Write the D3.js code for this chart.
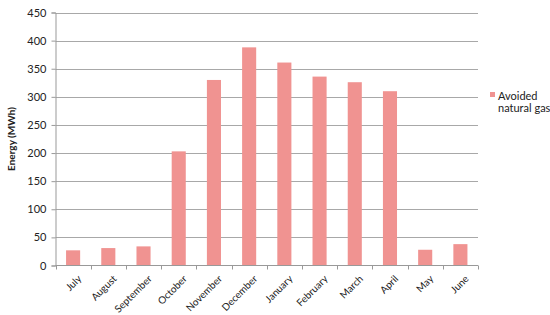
<!DOCTYPE html>
<html>
<head>
<meta charset="utf-8">
<script src="https://cdn.jsdelivr.net/npm/d3@7"></script>
<style>
  body { margin: 0; background: #fff; }
  text { font-family: Lato, "Open Sans", sans-serif; fill: #222; }
</style>
</head>
<body>
<svg id="plot" width="550" height="315"></svg>
<script>
let months = ["July", "August", "September", "October", "November", "December",
              "January", "February", "March", "April", "May", "June"];
let avoidedGas = [27, 31, 34, 203, 330, 388, 361, 336, 326, 310, 28, 38];
let yTicks = [0, 50, 100, 150, 200, 250, 300, 350, 400, 450];

let width = 550, height = 315;
let margin = {top: 12.5, right: 72, bottom: 49.5, left: 55.5};

let svg = d3.select("#plot");

let x = d3.scaleBand()
    .domain(months)
    .range([margin.left, width - margin.right])
    .paddingInner(0.6)
    .paddingOuter(0.3);

let y = d3.scaleLinear()
    .domain([0, 450])
    .range([height - margin.bottom, margin.top]);

// gridlines
svg.append("g")
  .selectAll("line")
  .data(yTicks.slice(1))
  .join("line")
    .attr("x1", margin.left)
    .attr("x2", width - margin.right)
    .attr("y1", d => Math.round(y(d)) + 0.5)
    .attr("y2", d => Math.round(y(d)) + 0.5)
    .attr("stroke", "#a8a8a8")
    .attr("stroke-width", 1);

// bars
svg.append("g")
  .selectAll("rect")
  .data(avoidedGas)
  .join("rect")
    .attr("x", (d, i) => x(months[i]))
    .attr("y", d => y(d))
    .attr("width", x.bandwidth())
    .attr("height", d => y(0) - y(d))
    .attr("fill", "#f09391");

// y axis
let yAxis = g => g
    .attr("transform", `translate(${margin.left}, 0)`)
    .call(d3.axisLeft(y).tickValues(yTicks).tickSize(4).tickPadding(5))
    .call(g => g.select(".domain").attr("stroke", "#999"))
    .call(g => g.selectAll(".tick line").attr("stroke", "#999"))
    .call(g => g.selectAll(".tick text")
              .style("font-size", "11px")
              .attr("fill", "#222"));

svg.append("g").call(yAxis);

// x axis: ticks at band boundaries
let step = (width - margin.right - margin.left) / months.length;

let gx = svg.append("g")
    .attr("transform", `translate(0, ${y(0)})`);

gx.append("line")
    .attr("x1", margin.left)
    .attr("x2", width - margin.right)
    .attr("stroke", "#999");

gx.selectAll(".tk")
  .data(d3.range(months.length + 1))
  .join("line")
    .attr("class", "tk")
    .attr("x1", i => Math.round(margin.left + i * step) + 0.5)
    .attr("x2", i => Math.round(margin.left + i * step) + 0.5)
    .attr("y1", 0)
    .attr("y2", 4)
    .attr("stroke", "#999");

gx.selectAll(".lbl")
  .data(months)
  .join("text")
    .attr("class", "lbl")
    .attr("transform", d => `translate(${x(d) + x.bandwidth() / 2 + 4}, 9) rotate(-45)`)
    .attr("text-anchor", "end")
    .attr("dy", "0.7em")
    .style("font-size", "10px")
    .text(d => d);

// y title
svg.append("text")
    .attr("transform", `translate(15, ${(y(0) + y(450)) / 2}) rotate(-90)`)
    .attr("text-anchor", "middle")
    .style("font-size", "10px")
    .style("font-weight", "bold")
    .text("Energy (MWh)");

// legend
let legend = svg.append("g")
    .attr("transform", "translate(490, 92)");

legend.append("rect")
    .attr("width", 5)
    .attr("height", 5)
    .attr("fill", "#f09391");

legend.append("text")
    .attr("x", 8)
    .attr("y", 7.5)
    .style("font-size", "11px")
    .text("Avoided");

legend.append("text")
    .attr("x", 8)
    .attr("y", 19.5)
    .style("font-size", "11px")
    .text("natural gas");
</script>
</body>
</html>
